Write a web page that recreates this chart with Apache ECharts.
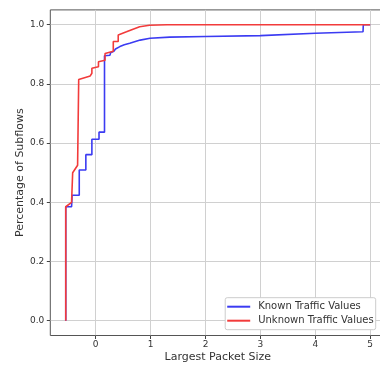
<!DOCTYPE html>
<html>
<head>
<meta charset="utf-8">
<script src="https://cdn.jsdelivr.net/npm/echarts@6/dist/echarts.min.js"></script>
<style>html,body{margin:0;padding:0;background:#fff}#c{width:380px;height:368px}</style>
</head>
<body>
<div id="c"></div>
<script>
const xTicks = [0, 1, 2, 3, 4, 5];
const yTicks = [0, 0.2, 0.4, 0.6, 0.8, 1.0];
const knownX = [-0.546,-0.546,-0.44,-0.43,-0.43,-0.30,-0.30,-0.18,-0.18,-0.07,-0.07,0.06,0.06,0.16,0.16,0.26,0.27,0.33,0.36,0.44,0.52,0.62,0.81,0.99,1.35,2.0,3.0,4.0,4.87,4.875,5.0];
const knownY = [0,0.385,0.385,0.39,0.424,0.424,0.509,0.509,0.561,0.561,0.613,0.613,0.637,0.637,0.895,0.897,0.905,0.91,0.918,0.926,0.932,0.937,0.948,0.954,0.958,0.96,0.963,0.971,0.976,1.0,1.0];
const unknownX = [-0.546,-0.546,-0.44,-0.42,-0.42,-0.33,-0.31,-0.31,-0.10,-0.07,-0.07,0.05,0.05,0.17,0.17,0.32,0.32,0.41,0.41,0.56,0.68,0.80,0.98,1.3,5.0];
const unknownY = [0,0.385,0.40,0.40,0.50,0.525,0.525,0.815,0.827,0.836,0.853,0.858,0.875,0.88,0.903,0.91,0.943,0.943,0.965,0.976,0.985,0.993,0.998,1.0,1.0];
const seriesNames = ['Known Traffic Values', 'Unknown Traffic Values'];

const zip = (xs, ys) => xs.map((x, i) => [x, ys[i]]);
const font = 'DejaVu Sans';
const chart = echarts.init(document.getElementById('c'), null, {renderer: 'canvas'});
chart.setOption({
  animation: false,
  backgroundColor: '#fff',
  grid: {left: 50.3, top: 9.9, width: 335.1, height: 325.6, containLabel: false, outerBoundsMode: 'none', show: true, borderColor: '#555', borderWidth: 1, backgroundColor: 'transparent'},
  legend: {
    orient: 'vertical', right: 4.3, bottom: 38.3,
    data: seriesNames,
    icon: 'rect', itemWidth: 23, itemHeight: 2, itemGap: 4,
    padding: [4, 2, 4, 2],
    borderColor: '#ccc', borderWidth: 1, borderRadius: 2, backgroundColor: '#fff',
    textStyle: {fontFamily: font, fontSize: 10, color: '#333', padding: [0, 0, 0, 3]}
  },
  xAxis: {
    type: 'value', min: -0.8275, max: 5.2775,
    name: 'Largest Packet Size', nameLocation: 'middle', nameGap: 16, nameMoveOverlap: false,
    nameTextStyle: {fontFamily: font, fontSize: 11, color: '#333'},
    axisLine: {show: false, onZero: false},
    axisTick: {show: true, customValues: xTicks, length: 3.5, lineStyle: {color: '#444'}},
    axisLabel: {customValues: xTicks, fontFamily: font, fontSize: 9, color: '#333', margin: 5},
    splitLine: {show: true, lineStyle: {color: '#d0d0d0', width: 1}}
  },
  yAxis: {
    type: 'value', min: -0.05, max: 1.05,
    name: 'Percentage of Subflows', nameLocation: 'middle', nameGap: 25, nameMoveOverlap: false,
    nameTextStyle: {fontFamily: font, fontSize: 11, color: '#333'},
    axisLine: {show: false, onZero: false},
    axisTick: {show: true, customValues: yTicks, length: 3.5, lineStyle: {color: '#444'}},
    axisLabel: {customValues: yTicks, fontFamily: font, fontSize: 9, color: '#333', margin: 6, formatter: v => v.toFixed(1)},
    splitLine: {show: true, lineStyle: {color: '#d0d0d0', width: 1}}
  },
  series: [
    {name: seriesNames[0], type: 'line', data: zip(knownX, knownY), showSymbol: false, symbol: 'none', lineStyle: {color: '#3b3bf2', width: 1.6}, itemStyle: {color: '#3b3bf2'}, z: 3},
    {name: seriesNames[1], type: 'line', data: zip(unknownX, unknownY), showSymbol: false, symbol: 'none', lineStyle: {color: '#f23b3b', width: 1.6}, itemStyle: {color: '#f23b3b'}, z: 4}
  ]
});
</script>
</body>
</html>
